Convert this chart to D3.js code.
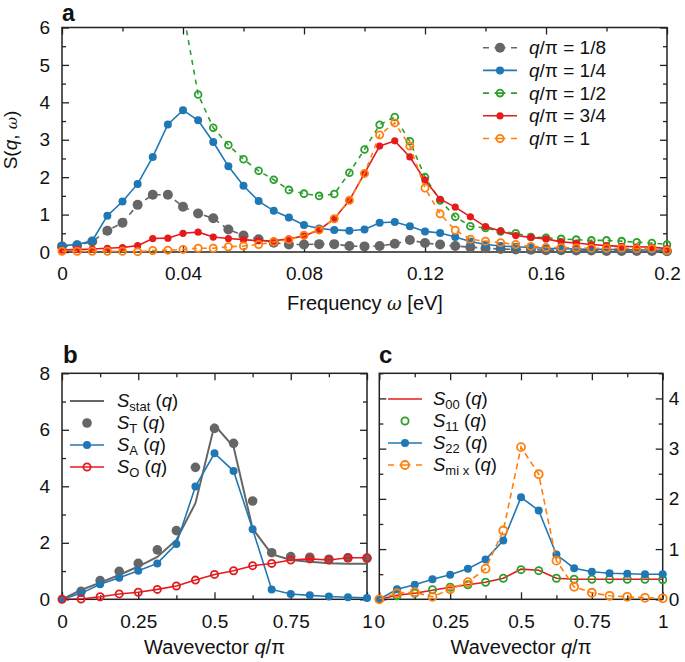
<!DOCTYPE html>
<html>
<head>
<meta charset="utf-8">
<script src="https://cdn.jsdelivr.net/npm/d3@7"></script>
<style>
  body { margin: 0; background: #fff; }
  text { font-family: "Liberation Sans", Arial, sans-serif; fill: #111; }
</style>
</head>
<body>
<script>
// ---- panel a : S(q, w) vs frequency ----
var freq = [0, 0.005, 0.01, 0.015, 0.02, 0.025, 0.03, 0.035, 0.04, 0.045,
  0.05, 0.055, 0.06, 0.065, 0.07, 0.075, 0.08, 0.085, 0.09, 0.095,
  0.1, 0.105, 0.11, 0.115, 0.12, 0.125, 0.13, 0.135, 0.14, 0.145,
  0.15, 0.155, 0.16, 0.165, 0.17, 0.175, 0.18, 0.185, 0.19, 0.195, 0.2]
var sEighth = [0.15, 0.18, 0.28, 0.57, 0.78, 1.26, 1.53, 1.53, 1.21, 1.03,
  0.9, 0.6, 0.44, 0.34, 0.25, 0.2, 0.2, 0.21, 0.21, 0.16,
  0.15, 0.16, 0.22, 0.32, 0.24, 0.2, 0.16, 0.13, 0.1, 0.08,
  0.07, 0.06, 0.05, 0.05, 0.04, 0.04, 0.03, 0.03, 0.03, 0.03, 0.02]
var sQuarter = [0.17, 0.2, 0.3, 0.97, 1.35, 1.82, 2.54, 3.41, 3.79, 3.52,
  2.94, 2.29, 1.77, 1.36, 1.1, 0.92, 0.72, 0.63, 0.59, 0.57,
  0.6, 0.78, 0.8, 0.69, 0.55, 0.51, 0.4, 0.28, 0.2, 0.16,
  0.14, 0.12, 0.1, 0.09, 0.08, 0.07, 0.07, 0.06, 0.06, 0.05, 0.05]
var sHalf = [null, null, null, null, null, null, null, null, 6.45, 4.21,
  3.32, 2.86, 2.48, 2.17, 1.93, 1.66, 1.56, 1.5, 1.55, 2.12,
  2.74, 3.4, 3.61, 2.96, 2.0, 1.38, 0.94, 0.69, 0.64, 0.55,
  0.5, 0.4, 0.38, 0.35, 0.33, 0.31, 0.31, 0.29, 0.26, 0.24, 0.2]
var sThreeQ = [0.05, 0.07, 0.08, 0.1, 0.12, 0.17, 0.36, 0.37, 0.5, 0.53,
  0.4, 0.36, 0.33, 0.3, 0.3, 0.35, 0.43, 0.59, 0.89, 1.38,
  2.1, 2.83, 2.97, 2.54, 1.92, 1.41, 1.2, 0.94, 0.68, 0.56,
  0.44, 0.39, 0.35, 0.27, 0.24, 0.2, 0.17, 0.15, 0.14, 0.13, 0.09]
var sOne = [0.02, 0.02, 0.02, 0.02, 0.02, 0.01, 0.04, 0.05, 0.07, 0.1,
  0.1, 0.14, 0.16, 0.2, 0.27, 0.33, 0.45, 0.59, 0.89, 1.38,
  2.1, 3.13, 3.45, 2.83, 1.71, 1.02, 0.58, 0.34, 0.29, 0.25,
  0.2, 0.15, 0.12, 0.12, 0.11, 0.1, 0.1, 0.1, 0.09, 0.09, 0.04]
var aLabels = ["1/8", "1/4", "1/2", "3/4", "1"]

// ---- panels b and c : static structure factors vs wavevector ----
var qGrid = [0, 0.0625, 0.125, 0.1875, 0.25, 0.3125, 0.375, 0.4375, 0.5,
  0.5625, 0.625, 0.6875, 0.75, 0.8125, 0.875, 0.9375, 1]
var sStat = [0, 0.33, 0.59, 0.86, 1.16, 1.5, 2.1, 3.4, 6.17, 5.4, 2.5, 1.6, 1.39, 1.33, 1.28, 1.26, 1.26]
var sT = [null, 0.28, 0.66, 0.99, 1.27, 1.75, 2.43, 4.67, 6.05, 5.52, 3.48, 1.65, 1.51, 1.49, 1.42, 1.47, 1.45]
var sA = [0, 0.21, 0.53, 0.76, 1.01, 1.27, 1.96, 3.99, 5.17, 4.54, 2.48, 0.35, 0.19, 0.14, 0.1, 0.07, 0.05]
var sO = [0, 0.01, 0.09, 0.19, 0.25, 0.35, 0.47, 0.68, 0.88, 1.01, 1.19, 1.27, 1.39, 1.43, 1.39, 1.47, 1.47]
var s00 = [0, 0.08, 0.12, 0.18, 0.24, 0.29, 0.34, 0.42, 0.6, 0.58, 0.42, 0.4, 0.4, 0.4, 0.4, 0.4, 0.4]
var s11 = [null, 0.07, 0.12, 0.19, 0.24, 0.29, 0.34, 0.42, 0.59, 0.57, 0.42, 0.4, 0.4, 0.4, 0.4, 0.4, 0.39]
var s22 = [0, 0.2, 0.29, 0.4, 0.49, 0.61, 0.79, 1.17, 2.03, 1.77, 0.89, 0.62, 0.55, 0.52, 0.51, 0.5, 0.5]
var sMix = [0, 0.12, 0.14, 0.05, 0.2, 0.34, 0.61, 1.37, 3.03, 2.49, 0.77, 0.25, 0.13, 0.07, 0.05, 0.03, 0.02]

// tick values
var aXMajor = [0, 0.04, 0.08, 0.12, 0.16, 0.2], aXMinor = [0.02, 0.06, 0.1, 0.14, 0.18]
var aYMajor = [0, 1, 2, 3, 4, 5, 6], aYMinor = [0.5, 1.5, 2.5, 3.5, 4.5, 5.5]
var qMajor = [0, 0.25, 0.5, 0.75, 1], qMinor = [0.125, 0.375, 0.625, 0.875]
var bYMajor = [0, 2, 4, 6, 8], bYMinor = [1, 3, 5, 7]
var cYMajor = [0, 1, 2, 3, 4], cYMinor = [0.5, 1.5, 2.5, 3.5, 4.5]

var gray = "#666666", blue = "#1f77b4", green = "#2ca02c", red = "#e41a1c", orange = "#ff7f0e"

var svg = d3.select("body").append("svg")
  .attr("width", 685)
  .attr("height", 662)

var clipN = 0

// ticks on all four sides, pointing inward, plus the box
function axes(x, y, o) {
  var x0 = x.range()[0], x1 = x.range()[1], y0 = y.range()[0], y1 = y.range()[1]
  var g = svg.append("g")
  function side(axis, tx, ty) {
    var a = g.append("g").attr("transform", "translate(" + tx + "," + ty + ")").call(axis)
    a.select(".domain").remove()
    a.selectAll("line").attr("stroke", "#222").attr("stroke-width", 1.3)
    a.selectAll("text").attr("font-size", 19).attr("fill", "#111")
      .style("font-family", "'Liberation Sans', Arial, sans-serif")
    return a
  }
  side(d3.axisBottom(x).tickValues(o.xMinor).tickSize(-4).tickFormat(""), 0, y0)
  side(d3.axisTop(x).tickValues(o.xMinor).tickSize(-4).tickFormat(""), 0, y1)
  side(d3.axisLeft(y).tickValues(o.yMinor).tickSize(-4).tickFormat(""), x0, 0)
  side(d3.axisRight(y).tickValues(o.yMinor).tickSize(-4).tickFormat(""), x1, 0)
  side(d3.axisBottom(x).tickValues(o.xMajor).tickSize(-7).tickPadding(15).tickFormat(String), 0, y0)
  side(d3.axisTop(x).tickValues(o.xMajor).tickSize(-7).tickFormat(""), 0, y1)
  side(d3.axisLeft(y).tickValues(o.yMajor).tickSize(-7).tickPadding(12)
    .tickFormat(o.leftLabels ? String : ""), x0, 0)
  side(d3.axisRight(y).tickValues(o.yMajor).tickSize(-7).tickPadding(6)
    .tickFormat(o.rightLabels ? String : ""), x1, 0)
  g.append("rect")
    .attr("x", x0).attr("y", y1)
    .attr("width", x1 - x0).attr("height", y0 - y1)
    .attr("fill", "none").attr("stroke", "#222").attr("stroke-width", 1.5)

  var id = "clip" + (clipN++)
  svg.append("clipPath").attr("id", id).append("rect")
    .attr("x", x0).attr("y", y1).attr("width", x1 - x0).attr("height", y0 - y1)
  return id
}

// one series: line (optional), markers (optional)
function series(xs, vals, x, y, clip, s) {
  var pts = xs.map(function (d, i) { return { x: d, v: vals[i] } })
  if (s.line) {
    svg.append("path")
      .datum(pts)
      .attr("clip-path", "url(#" + clip + ")")
      .attr("fill", "none")
      .attr("stroke", s.color)
      .attr("stroke-width", s.width || 1.6)
      .attr("stroke-dasharray", s.dash || null)
      .attr("d", d3.line()
        .defined(function (d) { return d.v != null })
        .x(function (d) { return x(d.x) })
        .y(function (d) { return y(d.v) }))
  }
  if (s.r) {
    var ymax = y.domain()[1]
    svg.append("g").selectAll("circle")
      .data(pts.filter(function (d) { return d.v != null && d.v <= ymax }))
      .enter().append("circle")
      .attr("cx", function (d) { return x(d.x) })
      .attr("cy", function (d) { return y(d.v) })
      .attr("r", s.r)
      .attr("fill", s.open ? "none" : s.color)
      .attr("stroke", s.open ? s.color : "none")
      .attr("stroke-width", 1.8)
  }
}

function legendRow(lx, ly, s) {
  if (s.line) {
    svg.append("line")
      .attr("x1", lx).attr("x2", lx + 34).attr("y1", ly).attr("y2", ly)
      .attr("stroke", s.color).attr("stroke-width", s.width || 1.6)
      .attr("stroke-dasharray", s.dash ? "6,5.5,11,5.5,6" : null)
  }
  if (s.r) {
    svg.append("circle")
      .attr("cx", lx + 17).attr("cy", ly).attr("r", s.r)
      .attr("fill", s.open ? "none" : s.color)
      .attr("stroke", s.open ? s.color : "none")
      .attr("stroke-width", 1.8)
  }
}

// S_sub (q) style label
function sLabel(tx, ty, sub) {
  var t = svg.append("text").attr("x", tx).attr("y", ty).attr("dy", "0.35em").attr("font-size", 18.5)
  t.append("tspan").attr("font-style", "italic").text("S")
  t.append("tspan").attr("font-size", 13).attr("dy", 4).text(sub)
  t.append("tspan").attr("dy", -4).text(" (")
  t.append("tspan").attr("font-style", "italic").text("q")
  t.append("tspan").text(")")
}

// ================= panel a =================
var xa = d3.scaleLinear().domain([0, 0.2]).range([62, 667])
var ya = d3.scaleLinear().domain([0, 6]).range([252, 27.5])
var clipA = axes(xa, ya, { xMajor: aXMajor, xMinor: aXMinor, yMajor: aYMajor, yMinor: aYMinor, leftLabels: true })

var aStyles = [
  { vals: sEighth, color: gray, line: true, dash: "6,5", r: 5 },
  { vals: sQuarter, color: blue, line: true, r: 4 },
  { vals: sHalf, color: green, line: true, dash: "5,5", r: 3.4, open: true },
  { vals: sThreeQ, color: red, line: true, r: 3.6 },
  { vals: sOne, color: orange, line: true, dash: "5,5", r: 3.6, open: true }
]
aStyles.forEach(function (s) { series(freq, s.vals, xa, ya, clipA, s) })

aStyles.forEach(function (s, i) {
  var ly = 47.7 + i * 22.7
  legendRow(483, ly, s)
  var t = svg.append("text").attr("x", 529).attr("y", ly).attr("dy", "0.35em").attr("font-size", 19)
  t.append("tspan").attr("font-style", "italic").text("q")
  t.append("tspan").text("/π = " + aLabels[i])
})

svg.append("text").attr("x", 62).attr("y", 20.5).attr("font-size", 23).attr("font-weight", "bold").text("a")

var ta = svg.append("text").attr("x", 365).attr("y", 310).attr("text-anchor", "middle").attr("font-size", 20)
ta.append("tspan").text("Frequency ")
ta.append("tspan").attr("font-style", "italic").attr("font-family", "'DejaVu Serif', serif").attr("font-size", 18).text("ω")
ta.append("tspan").text(" [eV]")

var tya = svg.append("text")
  .attr("transform", "translate(17,140) rotate(-90)")
  .attr("text-anchor", "middle").attr("font-size", 19)
tya.append("tspan").text("S(")
tya.append("tspan").attr("font-style", "italic").text("q")
tya.append("tspan").text(", ")
tya.append("tspan").attr("font-style", "italic").attr("font-family", "'DejaVu Serif', serif").attr("font-size", 15).text("ω")
tya.append("tspan").text(")")

// ================= panel b =================
var xb = d3.scaleLinear().domain([0, 1]).range([62, 367])
var yb = d3.scaleLinear().domain([0, 8]).range([599.3, 373.3])
var clipB = axes(xb, yb, { xMajor: qMajor, xMinor: qMinor, yMajor: bYMajor, yMinor: bYMinor, leftLabels: true })

var bStyles = [
  { vals: sStat, color: gray, line: true, width: 2, label: "stat" },
  { vals: sT, color: gray, r: 4.8, label: "T" },
  { vals: sA, color: blue, line: true, r: 4, label: "A" },
  { vals: sO, color: red, line: true, r: 3.6, open: true, label: "O" }
]
bStyles.forEach(function (s) { series(qGrid, s.vals, xb, yb, clipB, s) })
bStyles.forEach(function (s, i) {
  var ly = 401 + i * 22
  legendRow(70, ly, s)
  sLabel(117, ly, s.label)
})

svg.append("text").attr("x", 63).attr("y", 363).attr("font-size", 24).attr("font-weight", "bold").text("b")

// ================= panel c =================
var xc = d3.scaleLinear().domain([0, 1]).range([379.3, 662.7])
var yc = d3.scaleLinear().domain([0, 4.5]).range([599.3, 373.3])
var clipC = axes(xc, yc, { xMajor: qMajor, xMinor: qMinor, yMajor: cYMajor, yMinor: cYMinor, rightLabels: true })

var cStyles = [
  { vals: s00, color: red, line: true, label: "00" },
  { vals: s11, color: green, r: 3.6, open: true, label: "11" },
  { vals: s22, color: blue, line: true, r: 4, label: "22" },
  { vals: sMix, color: orange, line: true, dash: "6,4", r: 4, open: true, label: "mi x" }
]
cStyles.forEach(function (s) { series(qGrid, s.vals, xc, yc, clipC, s) })
cStyles.forEach(function (s, i) {
  var ly = 399 + i * 22
  legendRow(388, ly, s)
  sLabel(433, ly, s.label)
})

svg.append("text").attr("x", 379).attr("y", 363).attr("font-size", 24).attr("font-weight", "bold").text("c")

// x titles for b and c
;[xb, xc].forEach(function (x) {
  var r = x.range()
  var t = svg.append("text").attr("x", (r[0] + r[1]) / 2).attr("y", 654)
    .attr("text-anchor", "middle").attr("font-size", 20)
  t.append("tspan").text("Wavevector ")
  t.append("tspan").attr("font-style", "italic").text("q")
  t.append("tspan").text("/π")
})
</script>
</body>
</html>
